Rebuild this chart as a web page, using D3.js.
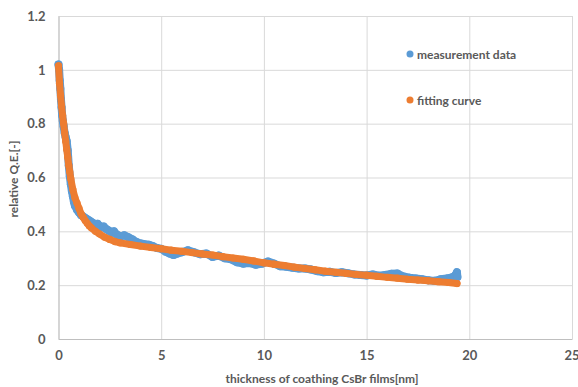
<!DOCTYPE html>
<html>
<head>
<meta charset="utf-8">
<script src="https://cdn.jsdelivr.net/npm/d3@7"></script>
<style>
  body { margin: 0; background: #fff; }
  svg text { font-family: Lato, "Open Sans", sans-serif; fill: #595959; font-weight: bold; }
</style>
</head>
<body>
<div id="chart"></div>
<script>
const measX = [0, 0.03, 0.06, 0.09, 0.12, 0.15, 0.18, 0.21, 0.25, 0.3, 0.35, 0.4, 0.45, 0.5, 0.55, 0.6, 0.65, 0.7, 0.75, 0.8,
  0.9, 1.0, 1.1, 1.2, 1.3, 1.4, 1.5, 1.6, 1.7, 1.8, 1.9, 2.0, 2.1, 2.2, 2.3, 2.4, 2.5, 2.6, 2.7, 2.8, 2.9, 3.0,
  3.2, 3.4, 3.6, 3.8, 4.0, 4.2, 4.4, 4.6, 4.8, 5.0, 5.2, 5.4, 5.6, 5.8, 6.0, 6.3, 6.6, 6.9, 7.2, 7.5, 7.8,
  8.1, 8.4, 8.7, 9.0, 9.3, 9.6, 9.9, 10.2, 10.5, 10.8, 11.1, 11.4, 11.7, 12.0, 12.3, 12.6, 12.9, 13.2, 13.5,
  13.8, 14.1, 14.4, 14.7, 15.0, 15.3, 15.6, 15.9, 16.2, 16.5, 16.8, 17.1, 17.4, 17.7, 18.0, 18.3, 18.6, 18.9,
  19.1, 19.25, 19.35, 19.4, 19.42];
const measY = [1.02, 1.0, 0.96, 0.93, 0.89, 0.86, 0.83, 0.81, 0.79, 0.765, 0.75, 0.735, 0.70, 0.645, 0.605, 0.575, 0.55, 0.53, 0.51, 0.495,
  0.48, 0.47, 0.46, 0.455, 0.45, 0.445, 0.44, 0.435, 0.43, 0.425, 0.428, 0.42, 0.415, 0.418, 0.41, 0.405, 0.40, 0.395, 0.40, 0.39, 0.385, 0.38,
  0.385, 0.378, 0.37, 0.36, 0.355, 0.352, 0.35, 0.345, 0.338, 0.335, 0.325, 0.318, 0.312, 0.318, 0.322, 0.33, 0.322, 0.315, 0.318, 0.305, 0.31,
  0.30, 0.296, 0.285, 0.28, 0.282, 0.276, 0.28, 0.288, 0.28, 0.27, 0.268, 0.265, 0.262, 0.262, 0.258, 0.252, 0.248, 0.25, 0.245,
  0.248, 0.244, 0.24, 0.238, 0.236, 0.24, 0.235, 0.238, 0.242, 0.243, 0.232, 0.228, 0.225, 0.222, 0.218, 0.216, 0.222, 0.225,
  0.228, 0.232, 0.24, 0.248, 0.23];

// fitting curve
const fitX = [0, 0.05, 0.1, 0.15, 0.2, 0.25, 0.3, 0.35, 0.4, 0.45, 0.5, 0.55, 0.6, 0.7, 0.8, 0.9, 1.0, 1.1, 1.2, 1.3, 1.4, 1.5, 1.6,
  1.8, 2.0, 2.25, 2.5, 2.75, 3.0, 3.5, 4.0, 4.5, 5.0, 5.5, 6.0, 6.5, 7, 7.5, 8, 8.5, 9, 9.5, 10, 10.5, 11, 11.5, 12, 12.5,
  13, 13.5, 14, 14.5, 15, 15.5, 16, 16.5, 17, 17.5, 18, 18.5, 19, 19.4];
const fitY = [1.015, 0.95, 0.905, 0.865, 0.83, 0.80, 0.765, 0.735, 0.705, 0.675, 0.645, 0.62, 0.595, 0.555, 0.525, 0.505, 0.485, 0.465, 0.452, 0.44, 0.43, 0.42, 0.413,
  0.400, 0.390, 0.378, 0.370, 0.362, 0.357, 0.351, 0.345, 0.340, 0.335, 0.330, 0.326, 0.321, 0.316, 0.312, 0.306, 0.301, 0.296, 0.290, 0.283, 0.278, 0.273, 0.267, 0.262, 0.257,
  0.252, 0.248, 0.244, 0.240, 0.237, 0.233, 0.229, 0.226, 0.222, 0.219, 0.216, 0.213, 0.210, 0.206];

const xTicks = [0, 5, 10, 15, 20, 25];
const yTicks = [0, 0.2, 0.4, 0.6, 0.8, 1, 1.2];
const seriesNames = ['measurement data', 'fitting curve'];
const colors = ['#5B9BD5', '#ED7D31'];

const W = 578, H = 387;
const margin = { top: 16, right: 6, bottom: 48, left: 58.5 };
const width = W - margin.left - margin.right;
const height = H - margin.top - margin.bottom;

const svg = d3.select('#chart').append('svg')
  .attr('width', W)
  .attr('height', H);

const g = svg.append('g')
  .attr('transform', `translate(${margin.left},${margin.top})`);

const x = d3.scaleLinear().domain([0, 25]).range([0, width]);
const y = d3.scaleLinear().domain([0, 1.2]).range([height, 0]);

// grid
g.append('g')
  .attr('class', 'grid')
  .call(d3.axisLeft(y).tickValues(yTicks).tickSize(-width).tickFormat(''))
  .call(s => s.select('.domain').remove())
  .selectAll('line').attr('stroke', '#d9d9d9');
g.append('g')
  .attr('class', 'grid')
  .attr('transform', `translate(0,${height})`)
  .call(d3.axisBottom(x).tickValues(xTicks).tickSize(-height).tickFormat(''))
  .call(s => s.select('.domain').remove())
  .selectAll('line').attr('stroke', '#d9d9d9');

// axes
const yAxis = g.append('g')
  .call(d3.axisLeft(y).tickValues(yTicks).tickSize(0).tickPadding(13).tickFormat(d3.format('')));
yAxis.select('.domain').attr('stroke', '#bfbfbf');
yAxis.selectAll('text').style('font-size', '13px').attr('fill', '#595959');

const xAxis = g.append('g')
  .attr('transform', `translate(0,${height})`)
  .call(d3.axisBottom(x).tickValues(xTicks).tickSize(0).tickPadding(12).tickFormat(d3.format('')));
xAxis.select('.domain').attr('stroke', '#bfbfbf');
xAxis.selectAll('text').style('font-size', '13px').attr('fill', '#595959');
// last label sits on the right edge, keep it inside the page
xAxis.selectAll('.tick').filter(d => d === 25).select('text')
  .attr('text-anchor', 'end').attr('dx', '7');

// series
const series = [
  { x: measX, y: measY },
  { x: fitX, y: fitY }
];
const line = d3.line().x(d => x(d[0])).y(d => y(d[1]));

series.forEach((s, i) => {
  const pts = s.x.map((v, j) => [v, s.y[j]]);
  g.append('path')
    .datum(pts)
    .attr('d', line)
    .attr('fill', 'none')
    .attr('stroke', colors[i])
    .attr('stroke-width', i === 0 ? 8 : 7)
    .attr('stroke-linejoin', 'round')
    .attr('stroke-linecap', 'round');
  g.append('g').selectAll('circle')
    .data(pts)
    .join('circle')
    .attr('cx', d => x(d[0]))
    .attr('cy', d => y(d[1]))
    .attr('r', i === 0 ? 4 : 3.6)
    .attr('fill', colors[i]);
});

// axis titles
svg.append('text')
  .attr('x', 322)
  .attr('y', 383)
  .attr('text-anchor', 'middle')
  .style('font-size', '12px')
  .text('thickness of coathing CsBr films[nm]');

svg.append('text')
  .attr('transform', 'translate(18,179) rotate(-90)')
  .attr('text-anchor', 'middle')
  .style('font-size', '12px')
  .text('relative Q.E.[-]');

// legend
const legend = svg.append('g');
seriesNames.forEach((name, i) => {
  const ly = 54 + i * 46;
  legend.append('circle').attr('cx', 410).attr('cy', ly).attr('r', 3.5).attr('fill', colors[i]);
  legend.append('text').attr('x', 417).attr('y', ly + 4.5).style('font-size', '12px').text(name);
});
</script>
</body>
</html>
